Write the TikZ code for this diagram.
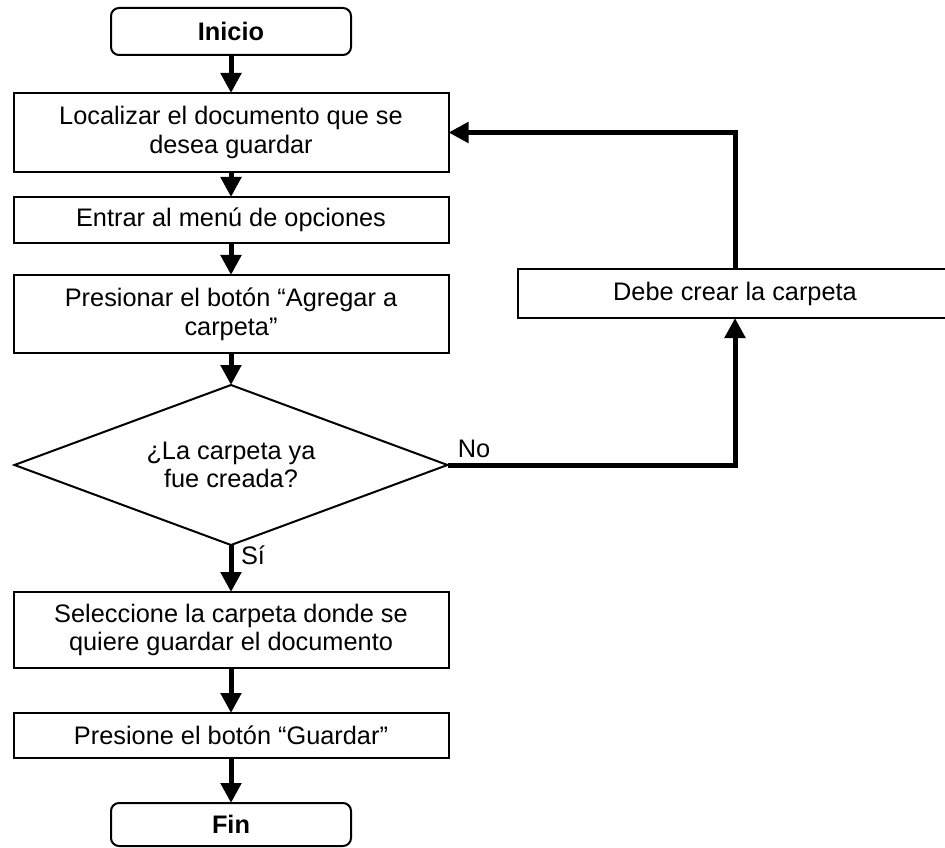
\documentclass[tikz,border=0pt]{standalone}
\usepackage{fontspec}
\setmainfont{Liberation Sans}
\usetikzlibrary{arrows.meta,shapes.geometric}
\begin{document}
\begin{tikzpicture}[x=0.75pt,y=-0.75pt,
  every node/.style={inner sep=0pt,outer sep=0pt,font=\fontsize{19}{21.5}\selectfont,align=center},
  procbox/.style={draw,line width=1.5pt,minimum width=435*0.75pt},
  termbox/.style={draw,line width=1.5pt,rounded corners=6pt,minimum width=240*0.75pt,font=\fontsize{19}{21.5}\selectfont\bfseries},
  decbox/.style={draw,line width=1.5pt,diamond,minimum width=433*0.75pt,minimum height=160*0.75pt,shape aspect=2.7},
  conn/.style={line width=3.75pt,-{Triangle[width=15pt,length=15pt]}},
  lbl/.style={font=\fontsize{19}{21.5}\selectfont}
]
\useasboundingbox (0,0) rectangle (945,848);
\node[termbox,minimum height=47*0.75pt] (ini) at (231,31.5) {Inicio};
\node[procbox,minimum height=79*0.75pt] (b1) at (231,132.5) {Localizar el documento que se\\desea guardar};
\node[procbox,minimum height=46*0.75pt] (b2) at (231,220) {Entrar al menú de opciones};
\node[procbox,minimum height=78*0.75pt] (b3) at (231,314) {Presionar el botón “Agregar a\\carpeta”};
\node[decbox] (d) at (231,465) {¿La carpeta ya\\fue creada?};
\node[procbox,minimum height=76*0.75pt] (b4) at (231,630) {Seleccione la carpeta donde se\\quiere guardar el documento};
\node[procbox,minimum height=45*0.75pt] (b5) at (231,735.5) {Presione el botón “Guardar”};
\node[termbox,minimum height=43*0.75pt] (fin) at (231,824.5) {Fin};
\node[procbox,minimum height=49*0.75pt] (rb) at (735,293.5) {Debe crear la carpeta};
\node[lbl] (no) at (474,449) {No};
\node[lbl] (si) at (253,555) {Sí};
\draw[conn] (ini.south) -- (b1.north);
\draw[conn] (b1.south) -- (b2.north);
\draw[conn] (b2.south) -- (b3.north);
\draw[conn] (b3.south) -- (d.north);
\draw[conn] (d.south) -- (b4.north);
\draw[conn] (b4.south) -- (b5.north);
\draw[conn] (b5.south) -- (fin.north);
\draw[conn] (d.east) -| (rb.south);
\draw[conn] (rb.north) |- (b1.east);
\end{tikzpicture}
\end{document}
